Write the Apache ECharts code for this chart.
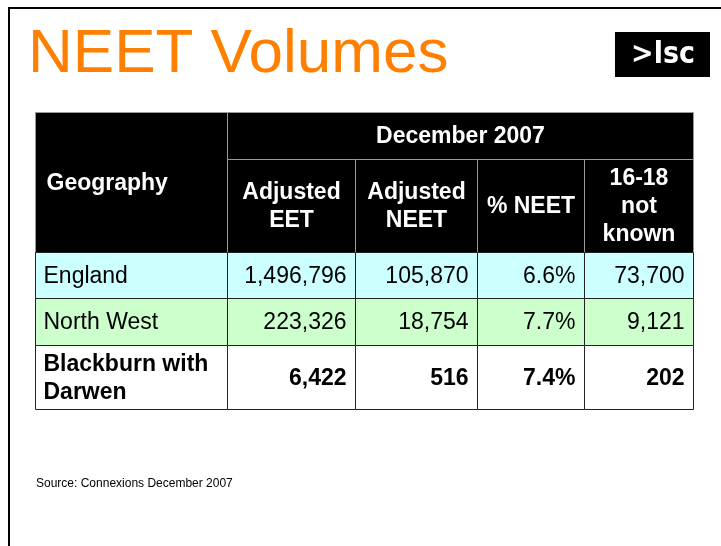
<!DOCTYPE html>
<html>
<head>
<meta charset="utf-8">
<script src="https://cdn.jsdelivr.net/npm/echarts@6/dist/echarts.min.js"></script>
<style>
html,body{margin:0;padding:0;background:#fff;}
#main{width:721px;height:546px;}
</style>
</head>
<body>
<div id="main"></div>
<script>
// ---- data ----
const titleText = 'NEET Volumes';
const sourceText = 'Source: Connexions December 2007';
const periodHeader = 'December 2007';
const geographyHeader = 'Geography';
const columnHeaders = ['Adjusted\nEET', 'Adjusted\nNEET', '% NEET', '16-18\nnot\nknown'];
const geographies = ['England', 'North West', 'Blackburn with Darwen'];
const adjustedEET = [1496796, 223326, 6422];
const adjustedNEET = [105870, 18754, 516];
const pctNEET = [6.6, 7.7, 7.4];
const notKnown = [73700, 9121, 202];

// ---- layout / style ----
const colEdges = [0, 192, 320, 442, 549, 658];
const rowEdges = [0, 47, 140, 186, 233, 297];
const rowFills = ['#CCFFFF', '#CCFFCC', '#FFFFFF'];
const rowBold = [false, false, true];
const FONT = '"Liberation Sans", Arial, sans-serif';

const fmtNum = v => v.toString().replace(/\B(?=(\d{3})+(?!\d))/g, ',');
const fmtPct = v => v.toFixed(1) + '%';

const measureCtx = document.createElement('canvas').getContext('2d');
function wrapText(text, font, maxWidth) {
  measureCtx.font = font;
  const words = text.split(' ');
  const lines = [];
  let cur = '';
  words.forEach(wd => {
    const test = cur ? cur + ' ' + wd : wd;
    if (cur && measureCtx.measureText(test).width > maxWidth) { lines.push(cur); cur = wd; }
    else cur = test;
  });
  if (cur) lines.push(cur);
  return lines.join('\n');
}

// build table cells
const cells = [];
cells.push({c0: 0, c1: 1, r0: 0, r1: 2, text: geographyHeader, kind: 'hdrLeft'});
cells.push({c0: 1, c1: 5, r0: 0, r1: 1, text: periodHeader, kind: 'hdr'});
columnHeaders.forEach((t, i) => cells.push({c0: i + 1, c1: i + 2, r0: 1, r1: 2, text: t, kind: 'hdr'}));
geographies.forEach((g, r) => {
  const cols = [g, fmtNum(adjustedEET[r]), fmtNum(adjustedNEET[r]), fmtPct(pctNEET[r]), fmtNum(notKnown[r])];
  cols.forEach((t, c) => cells.push({c0: c, c1: c + 1, r0: r + 2, r1: r + 3, text: t,
    kind: c === 0 ? 'label' : 'value', row: r}));
});
const cellData = cells.map(c => [colEdges[c.c0], colEdges[c.c1], rowEdges[c.r0], rowEdges[c.r1]]);

function renderItem(params, api) {
  const cell = cells[params.dataIndex];
  const p0 = api.coord([api.value(0), api.value(2)]);
  const p1 = api.coord([api.value(1), api.value(3)]);
  const x = Math.round(p0[0]) - 0.5, y = Math.round(p0[1]) - 0.5;
  const w = Math.round(p1[0]) - Math.round(p0[0]);
  const h = Math.round(p1[1]) - Math.round(p0[1]);
  const isHdr = cell.kind === 'hdr' || cell.kind === 'hdrLeft';
  const bold = isHdr || rowBold[cell.row];
  const font = (bold ? 'bold ' : '') + '23px ' + FONT;
  const rect = {
    type: 'rect',
    shape: {x: x, y: y, width: w, height: h},
    style: {
      fill: isHdr ? '#000000' : rowFills[cell.row],
      stroke: isHdr ? '#9a9a9a' : '#222222',
      lineWidth: 1
    }
  };
  let tx, align;
  if (cell.kind === 'hdr') { tx = x + w / 2; align = 'center'; }
  else if (cell.kind === 'hdrLeft') { tx = x + 11; align = 'left'; }
  else if (cell.kind === 'label') { tx = x + 8; align = 'left'; }
  else { tx = x + w - 9; align = 'right'; }
  const label = cell.kind === 'label' ? wrapText(cell.text, font, w - 14) : cell.text;
  const text = {
    type: 'text',
    style: {
      x: tx, y: y + h / 2 + 1,
      text: label,
      fill: isHdr ? '#FFFFFF' : '#000000',
      font: font,
      align: align,
      verticalAlign: 'middle',
      lineHeight: 28
    }
  };
  return {type: 'group', children: [rect, text]};
}

const chart = echarts.init(document.getElementById('main'), null, {renderer: 'canvas'});
chart.setOption({
  animation: false,
  backgroundColor: '#ffffff',
  grid: {left: 36, top: 113, width: 658, height: 297, containLabel: false},
  xAxis: {type: 'value', min: 0, max: colEdges[colEdges.length - 1], show: false},
  yAxis: {type: 'value', min: 0, max: rowEdges[rowEdges.length - 1], inverse: true, show: false},
  graphic: [
    {type: 'rect', shape: {x: 9, y: 8, width: 800, height: 700},
     style: {fill: 'none', stroke: '#000', lineWidth: 2}, silent: true},
    {type: 'text', x: 28, y: 55,
     style: {text: titleText, fill: '#FF8000', font: '62px ' + FONT, verticalAlign: 'middle', align: 'left'}},
    {type: 'group', left: 615, top: 32, children: [
      {type: 'rect', shape: {x: 0, y: 0, width: 95, height: 45}, style: {fill: '#000'}},
      {type: 'text', style: {x: 48, y: 23, text: '>lsc', fill: '#fff',
        font: 'bold 30px "DejaVu Sans Condensed", "DejaVu Sans", sans-serif', align: 'center', verticalAlign: 'middle'}}
    ]},
    {type: 'text', x: 36, y: 484,
     style: {text: sourceText, fill: '#000', font: '12px ' + FONT, verticalAlign: 'middle', align: 'left'}}
  ],
  series: [{
    type: 'custom',
    renderItem: renderItem,
    encode: {x: [0, 1], y: [2, 3]},
    data: cellData,
    clip: false
  }]
});
</script>
</body>
</html>
